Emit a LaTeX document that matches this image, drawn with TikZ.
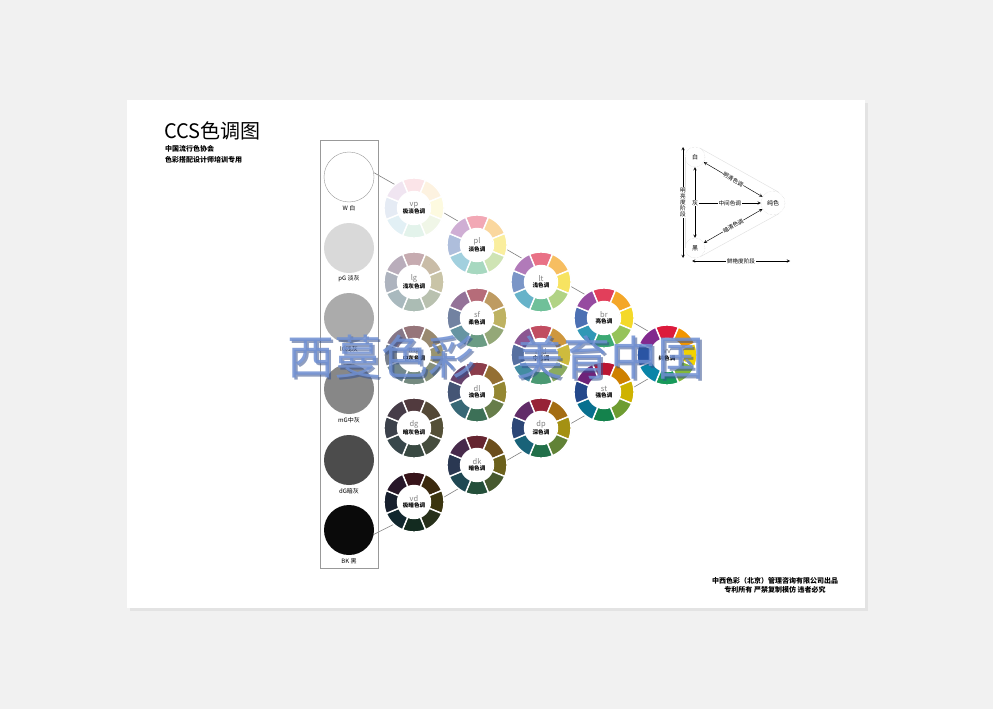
\documentclass[tikz,border=0pt]{standalone}
\usepackage{fontspec}
\setmainfont{Noto Sans CJK SC}
\usepackage{xcolor}
\usepackage{tikz}
\usetikzlibrary{calc, arrows, backgrounds}

\definecolor{pagebg}{HTML}{F1F1F1}
\definecolor{hred}{HTML}{DC1A3C}
\definecolor{horange}{HTML}{F29600}
\definecolor{hyellow}{HTML}{F2D200}
\definecolor{hyg}{HTML}{82B83A}
\definecolor{hgreen}{HTML}{17995A}
\definecolor{hteal}{HTML}{0A84A8}
\definecolor{hblue}{HTML}{2A55A4}
\definecolor{hpurple}{HTML}{82298E}
\definecolor{wmark}{HTML}{6F8FD2}
\definecolor{wshade}{HTML}{34508E}

\newcommand{\maketone}[2]{%
  \colorlet{#11}{hred#2}\colorlet{#12}{horange#2}\colorlet{#13}{hyellow#2}%
  \colorlet{#14}{hyg#2}\colorlet{#15}{hgreen#2}\colorlet{#16}{hteal#2}%
  \colorlet{#17}{hblue#2}\colorlet{#18}{hpurple#2}}
\maketone{vp}{!12!white}
\maketone{pl}{!38!white}
\maketone{lt}{!62!white}
\maketone{br}{!84!white}
\maketone{vv}{}
\maketone{lg}{!25!gray!55!white}
\maketone{sf}{!45!gray!85!white}
\maketone{md}{!65!gray!92!white}
\maketone{st}{!85!black}
\maketone{mg}{!18!gray!95!white}
\maketone{dl}{!50!gray!80!black}
\maketone{dp}{!80!gray!75!black}
\maketone{dg}{!22!gray!55!black}
\maketone{dk}{!60!gray!55!black}
\maketone{vd}{!60!gray!30!black}

\newcommand{\abbr}[1]{{\mdseries\color{gray}\fontsize{7.5}{7.5}\selectfont #1}}

\tikzset{
    pics/tonewheel/.style = {
        code = {%
        \coordinate (-center) at (0,0);
        \coordinate (-hi) at (5.5,9.5);
        \coordinate (-lo) at (5.5,-9.5);
        \foreach \k in {1,...,8}{
            \pgfmathsetmacro{\sa}{157.5-45*\k}
            \pgfmathsetmacro{\ea}{112.5-45*\k}
            \filldraw[fill=#1\k, draw=white, line width=1.4]
              (\sa:30) arc[start angle=\sa, end angle=\ea, radius=30]
              -- (\ea:16.5) arc[start angle=\ea, end angle=\sa, radius=16.5] -- cycle;
        }
        \fill[white] (0,0) circle[radius=16];
        }
    },
    tonelabel/.style = {align=center, inner sep=0, font=\bfseries\fontsize{5.6}{6.5}\selectfont},
    grayball/.style = {circle, minimum size=50, inner sep=0},
    graylabel/.style = {font=\fontsize{6}{6}\selectfont, inner sep=0},
    link/.style = {draw=gray, line width=.6},
    stage/.style = {circle, draw=gray!35, densely dotted, minimum size=20, inner sep=0, font=\fontsize{6}{6}\selectfont},
    hull/.style = {draw=gray!25, line width=.4},
    tarrow/.style = {line width=.45, >=stealth},
    tlab/.style = {fill=white, inner sep=.6, font=\fontsize{5.6}{5.6}\selectfont},
    smallprint/.style = {font=\bfseries\fontsize{7}{9}\selectfont, inner sep=0},
}

\begin{document}
\begin{tikzpicture}[x=1pt, y=1pt]
\useasboundingbox (0,0) rectangle (993,-709);
\begin{scope}[on background layer]
\fill[pagebg] (0,0) rectangle (993,-709);
\fill[gray!22] (130,-103) rectangle (868,-611);
\fill[white] (127,-100) rectangle (865,-608);
\end{scope}

\node[anchor=west, inner sep=0, font=\fontsize{20}{20}\selectfont] (title) at (164,-131) {CCS色调图};
\node[smallprint, anchor=west] (assoc) at (165,-149) {中国流行色协会};
\node[smallprint, anchor=west] (course) at (165,-160) {色彩搭配设计师培训专用};

\draw[draw=gray!80, line width=.6] (320,-140) rectangle (378,-568);
\node[grayball, draw=gray!80, fill=white, line width=.4] (W) at (349,-177) {};
\node[graylabel] (W-lab) at (349,-208) {W 白};
\node[grayball, fill=black!15] (pG) at (349,-248) {};
\node[graylabel] (pG-lab) at (349,-279) {pG 淡灰};
\node[grayball, fill=black!33] (lG) at (349,-318) {};
\node[graylabel] (lG-lab) at (349,-349) {lG浅灰};
\node[grayball, fill=black!47] (mG) at (349,-389) {};
\node[graylabel] (mG-lab) at (349,-420) {mG中灰};
\node[grayball, fill=black!70] (dG) at (349,-460) {};
\node[graylabel] (dG-lab) at (349,-491) {dG暗灰};
\node[grayball, fill=black!96] (BK) at (349,-530) {};
\node[graylabel] (BK-lab) at (349,-561) {BK 黑};

\pic (vp) at (414,-208) {tonewheel=vp};
\node[tonelabel] at (vp-center) {\abbr{vp}\\极淡色调};
\pic (pl) at (477,-245) {tonewheel=pl};
\node[tonelabel] at (pl-center) {\abbr{pl}\\淡色调};
\pic (lt) at (541,-282) {tonewheel=lt};
\node[tonelabel] at (lt-center) {\abbr{lt}\\浅色调};
\pic (br) at (604,-318) {tonewheel=br};
\node[tonelabel] at (br-center) {\abbr{br}\\亮色调};
\pic (vv) at (667,-355) {tonewheel=vv};
\node[tonelabel] at (vv-center) {\abbr{vv}\\纯色调};

\pic (lg) at (414,-282) {tonewheel=lg};
\node[tonelabel] at (lg-center) {\abbr{lg}\\浅灰色调};
\pic (sf) at (477,-318) {tonewheel=sf};
\node[tonelabel] at (sf-center) {\abbr{sf}\\柔色调};
\pic (md) at (541,-355) {tonewheel=md};
\node[tonelabel] at (md-center) {\abbr{md}\\中色调};
\pic (st) at (604,-392) {tonewheel=st};
\node[tonelabel] at (st-center) {\abbr{st}\\强色调};

\pic (mg) at (414,-355) {tonewheel=mg};
\node[tonelabel] at (mg-center) {\abbr{mg}\\中灰色调};
\pic (dl) at (477,-392) {tonewheel=dl};
\node[tonelabel] at (dl-center) {\abbr{dl}\\浊色调};
\pic (dp) at (541,-428) {tonewheel=dp};
\node[tonelabel] at (dp-center) {\abbr{dp}\\深色调};

\pic (dg) at (414,-428) {tonewheel=dg};
\node[tonelabel] at (dg-center) {\abbr{dg}\\暗灰色调};
\pic (dk) at (477,-465) {tonewheel=dk};
\node[tonelabel] at (dk-center) {\abbr{dk}\\暗色调};

\pic (vd) at (414,-502) {tonewheel=vd};
\node[tonelabel] at (vd-center) {\abbr{vd}\\极暗色调};

\begin{scope}[on background layer]
\draw[link] (W.10) -- (vp-hi) -- (pl-hi) -- (lt-hi) -- (br-hi) -- (vv-hi);
\draw[link] (BK.-10) -- (vd-lo) -- (dk-lo) -- (dp-lo) -- (st-lo) -- (vv-lo);
\end{scope}

\node[stage] (bai) at (695,-157) {白};
\node[stage] (hei) at (695,-248) {黑};
\node[stage, minimum size=24] (chun) at (773,-203) {纯色};
\draw[hull] (bai.60) -- (chun.60);
\draw[hull] (bai.180) -- (hei.180);
\draw[hull] (hei.-60) -- (chun.-60);
\draw[tarrow, <->] (bai) -- (hei);
\node[tlab, font=\fontsize{6}{6}\selectfont] (hui) at (695,-203) {灰};
\draw[tarrow, <->] (bai) -- (chun) node[tlab, midway, sloped] {明清色调};
\draw[tarrow, ->] (hui) -- (chun) node[tlab, midway] {中间色调};
\draw[tarrow, <->] (hei) -- (chun) node[tlab, midway, sloped] {暗清色调};
\coordinate (lum-top) at (683,-147);
\coordinate (lum-bot) at (683,-258);
\draw[tarrow, <->] (lum-top) -- (lum-bot) node[tlab, midway, align=center, font=\fontsize{5.6}{6}\selectfont] {明\\亮\\度\\阶\\段};
\coordinate (sat-l) at (692,-261);
\coordinate (sat-r) at (790,-261);
\draw[tarrow, <->] (sat-l) -- (sat-r) node[tlab, midway] {鲜艳度阶段};

\node[smallprint, align=center] (maker) at (775,-585) {中西色彩（北京）管理咨询有限公司出品\\专利所有 严禁复制模仿 违者必究};

\node[text=wshade, opacity=.55, font=\fontsize{47}{47}\selectfont, inner sep=0] (wm1s) at (383,-359) {西蔓色彩};
\node[text=wmark, opacity=.85, font=\fontsize{47}{47}\selectfont, inner sep=0] (wm1) at (381,-357) {西蔓色彩};
\node[text=wshade, opacity=.55, font=\fontsize{47}{47}\selectfont, inner sep=0] (wm2s) at (612,-359) {美育中国};
\node[text=wmark, opacity=.85, font=\fontsize{47}{47}\selectfont, inner sep=0] (wm2) at (610,-357) {美育中国};
\end{tikzpicture}
\end{document}
